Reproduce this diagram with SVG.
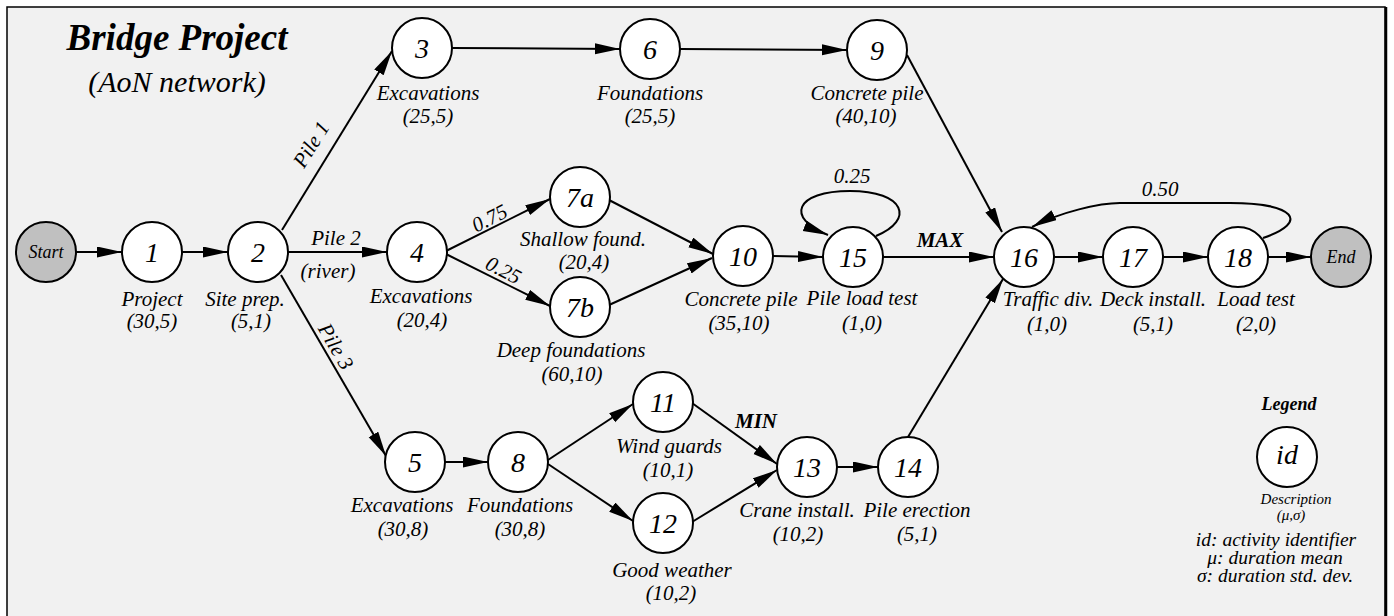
<svg xmlns="http://www.w3.org/2000/svg" width="1394" height="616" viewBox="0 0 1394 616" font-family="'Liberation Serif', 'DejaVu Serif', serif">
<style>
text{font-family:'Liberation Serif','DejaVu Serif',serif;font-style:italic;fill:#000}
.lbl{font-size:21px;text-anchor:middle}
.num{font-size:28px;text-anchor:middle}
.se{font-size:18px;text-anchor:middle}
.bold{font-weight:bold}
circle.n{fill:#fff;stroke:#000;stroke-width:2}
circle.g{fill:#c0c0c0;stroke:#000;stroke-width:2}
.e{fill:none;stroke:#000;stroke-width:2;marker-end:url(#ah)}
</style>
<defs>
<marker id="ah" markerUnits="userSpaceOnUse" markerWidth="26" markerHeight="12" refX="25" refY="5.5" orient="auto"><path d="M0,0 L25,5.5 L0,11 z" fill="#000"/></marker>
</defs>
<rect x="0" y="0" width="1394" height="616" fill="#fff"/>
<rect x="7" y="7" width="1378" height="620" fill="#f1f1f1" stroke="#000" stroke-width="1.5"/>
<line x1="1386" y1="7" x2="1386" y2="616" stroke="#000" stroke-width="2.5"/>
<g id="title">
<text x="177" y="50" class="bold" font-size="37" text-anchor="middle">Bridge Project</text>
<text x="177" y="92" font-size="30" text-anchor="middle">(AoN network)</text>
</g>
<g id="connectors">
<path class="e" d="M76,252 L122,252"/>
<path class="e" d="M182,252 L228,252"/>
<path class="e" d="M282,230 L392,51"/>
<path class="e" d="M288,252 L387,252"/>
<path class="e" d="M281,275 L386,456"/>
<path class="e" d="M452,48 L620,49"/>
<path class="e" d="M680,49 L847,50"/>
<path class="e" d="M907,55 L1002,232"/>
<path class="e" d="M446,251 L550,199"/>
<path class="e" d="M446,254 L550,306"/>
<path class="e" d="M609,200 L713,254"/>
<path class="e" d="M609,305 L712,258"/>
<path class="e" d="M773,256 L823,257"/>
<path class="e" d="M876,236 C915,220 905,191 850,191 C795,191 785,218 828,235"/>
<path class="e" d="M883,257 L994,257"/>
<path class="e" d="M445,462 L488,462"/>
<path class="e" d="M548,460 L633,404"/>
<path class="e" d="M548,464 L633,521"/>
<path class="e" d="M692,403 L777,464"/>
<path class="e" d="M692,522 L777,470"/>
<path class="e" d="M837,467 L878,467"/>
<path class="e" d="M908,437 L1003,279"/>
<path class="e" d="M1054,257 L1103,257"/>
<path class="e" d="M1163,257 L1208,257"/>
<path class="e" d="M1268,257 L1311,257"/>
<path class="e" d="M1263,238 C1310,222 1295,203 1230,203 L1120,203 C1100,203 1060,212 1032,227"/>
<text class="lbl" transform="translate(312,145) rotate(-58)" y="6">Pile 1</text>
<text class="lbl" x="336" y="245">Pile 2</text>
<text class="lbl" x="328" y="278">(river)</text>
<text class="lbl" transform="translate(335,347) rotate(60)" y="6">Pile 3</text>
<text class="lbl" transform="translate(490,219) rotate(-27)" y="6">0.75</text>
<text class="lbl" transform="translate(503,271) rotate(27)" y="6">0.25</text>
<text class="lbl" x="852" y="183">0.25</text>
<text class="lbl bold" x="940" y="247">MAX</text>
<text class="lbl bold" x="756" y="428">MIN</text>
<text class="lbl" x="1160" y="196">0.50</text>
</g>
<g id="start"><circle class="g" cx="46" cy="252" r="30"/><text class="se" x="46" y="258">Start</text></g>
<g id="n1"><circle class="n" cx="152" cy="252" r="30"/><text class="num" x="152" y="262">1</text>
<text class="lbl" x="152" y="306">Project</text><text class="lbl" x="152" y="328">(30,5)</text></g>
<g id="n2"><circle class="n" cx="258" cy="252" r="30"/><text class="num" x="258" y="262">2</text>
<text class="lbl" x="245" y="306">Site prep.</text><text class="lbl" x="251" y="328">(5,1)</text></g>
<g id="n3"><circle class="n" cx="422" cy="48" r="30"/><text class="num" x="422" y="58">3</text>
<text class="lbl" x="428" y="100">Excavations</text><text class="lbl" x="428" y="123">(25,5)</text></g>
<g id="n4"><circle class="n" cx="417" cy="252" r="30"/><text class="num" x="417" y="262">4</text>
<text class="lbl" x="421" y="303">Excavations</text><text class="lbl" x="422" y="327">(20,4)</text></g>
<g id="n5"><circle class="n" cx="415" cy="462" r="30"/><text class="num" x="415" y="472">5</text>
<text class="lbl" x="402" y="512">Excavations</text><text class="lbl" x="403" y="536">(30,8)</text></g>
<g id="n6"><circle class="n" cx="650" cy="49" r="30"/><text class="num" x="650" y="59">6</text>
<text class="lbl" x="650" y="100">Foundations</text><text class="lbl" x="650" y="123">(25,5)</text></g>
<g id="n7a"><circle class="n" cx="580" cy="197" r="30"/><text class="num" x="580" y="207">7a</text>
<text class="lbl" x="583" y="246">Shallow found.</text><text class="lbl" x="584" y="269">(20,4)</text></g>
<g id="n7b"><circle class="n" cx="580" cy="307" r="30"/><text class="num" x="580" y="317">7b</text>
<text class="lbl" x="571" y="357">Deep foundations</text><text class="lbl" x="572" y="381">(60,10)</text></g>
<g id="n8"><circle class="n" cx="518" cy="462" r="30"/><text class="num" x="518" y="472">8</text>
<text class="lbl" x="520" y="512">Foundations</text><text class="lbl" x="520" y="536">(30,8)</text></g>
<g id="n9"><circle class="n" cx="877" cy="50" r="30"/><text class="num" x="877" y="60">9</text>
<text class="lbl" x="867" y="100">Concrete pile</text><text class="lbl" x="866" y="123">(40,10)</text></g>
<g id="n10"><circle class="n" cx="743" cy="256" r="30"/><text class="num" x="743" y="266">10</text>
<text class="lbl" x="741" y="306">Concrete pile</text><text class="lbl" x="739" y="330">(35,10)</text></g>
<g id="n11"><circle class="n" cx="663" cy="402" r="30"/><text class="num" x="663" y="412">11</text>
<text class="lbl" x="669" y="453">Wind guards</text><text class="lbl" x="668" y="477">(10,1)</text></g>
<g id="n12"><circle class="n" cx="663" cy="523" r="30"/><text class="num" x="663" y="533">12</text>
<text class="lbl" x="672" y="577">Good weather</text><text class="lbl" x="671" y="600">(10,2)</text></g>
<g id="n13"><circle class="n" cx="807" cy="467" r="30"/><text class="num" x="807" y="477">13</text>
<text class="lbl" x="797" y="517">Crane install.</text><text class="lbl" x="798" y="541">(10,2)</text></g>
<g id="n14"><circle class="n" cx="908" cy="467" r="30"/><text class="num" x="908" y="477">14</text>
<text class="lbl" x="917" y="517">Pile erection</text><text class="lbl" x="917" y="541">(5,1)</text></g>
<g id="n15"><circle class="n" cx="853" cy="257" r="30"/><text class="num" x="853" y="267">15</text>
<text class="lbl" x="862" y="305">Pile load test</text><text class="lbl" x="862" y="330">(1,0)</text></g>
<g id="n16"><circle class="n" cx="1024" cy="257" r="30"/><text class="num" x="1024" y="267">16</text>
<text class="lbl" x="1048" y="306">Traffic div.</text><text class="lbl" x="1047" y="331">(1,0)</text></g>
<g id="n17"><circle class="n" cx="1133" cy="257" r="30"/><text class="num" x="1133" y="267">17</text>
<text class="lbl" x="1153" y="306">Deck install.</text><text class="lbl" x="1153" y="331">(5,1)</text></g>
<g id="n18"><circle class="n" cx="1238" cy="257" r="30"/><text class="num" x="1238" y="267">18</text>
<text class="lbl" x="1256" y="306">Load test</text><text class="lbl" x="1256" y="331">(2,0)</text></g>
<g id="end"><circle class="g" cx="1341" cy="257" r="30"/><text class="se" x="1341" y="263">End</text></g>
<g id="legend">
<text class="bold" x="1289" y="410" font-size="18" text-anchor="middle">Legend</text>
<circle class="n" cx="1287" cy="457" r="30"/><text class="num" x="1287" y="464">id</text>
<text x="1296" y="504" font-size="15" text-anchor="middle">Description</text>
<text x="1291" y="520" font-size="15" text-anchor="middle">(μ,σ)</text>
<text x="1276" y="546" font-size="19.5" text-anchor="middle">id: activity identifier</text>
<text x="1275" y="564" font-size="19.5" text-anchor="middle">μ: duration mean</text>
<text x="1275" y="582" font-size="19.5" text-anchor="middle">σ: duration std. dev.</text>
</g>
</svg>
